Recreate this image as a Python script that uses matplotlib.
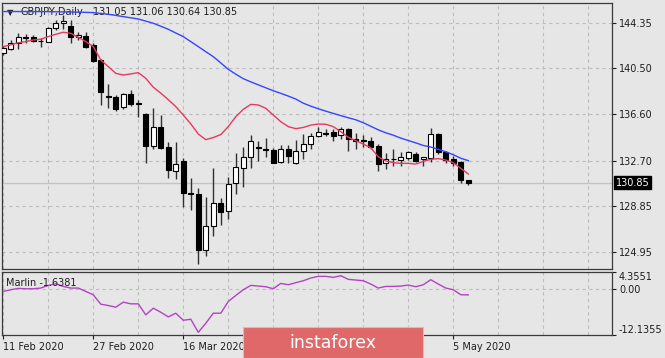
import matplotlib
matplotlib.use("Agg")
import matplotlib.pyplot as plt
import numpy as np
from matplotlib.patches import Rectangle
from matplotlib.transforms import blended_transform_factory

# GBPJPY daily candles, 11 Feb 2020 .. 7 May 2020
opens = [141.76, 142.10, 142.61, 143.11, 143.17, 142.83, 142.75, 143.88, 144.35, 144.07,
         143.11, 143.23, 142.47, 141.20, 138.18, 138.10, 137.20, 138.30, 137.54, 136.61,
         133.96, 135.57, 133.88, 131.85, 132.67, 129.94, 129.88, 125.15, 127.18, 129.15,
         128.45, 130.78, 132.11, 133.04, 133.82, 133.65, 133.60, 132.56, 133.65, 132.47,
         133.48, 134.08, 134.78, 135.03, 135.09, 134.84, 135.34, 134.53, 134.41, 134.39,
         133.94, 132.47, 132.87, 132.75, 132.95, 133.23, 132.81, 132.95, 134.92, 133.46,
         132.84, 132.56, 131.05]
highs = [142.38, 142.89, 143.45, 143.37, 143.31, 143.03, 143.96, 144.58, 145.00, 144.58,
         143.59, 143.59, 142.61, 141.26, 139.14, 138.24, 138.44, 138.67, 137.82, 136.69,
         137.15, 136.55, 134.30, 134.30, 132.89, 131.21, 130.36, 129.60, 132.05, 129.52,
         131.35, 133.32, 133.82, 134.86, 134.36, 134.58, 133.74, 134.02, 134.02, 134.44,
         134.95, 135.00, 135.57, 135.34, 135.34, 135.51, 135.43, 135.00, 134.86, 134.67,
         134.10, 133.32, 133.65, 133.46, 133.54, 133.46, 133.03, 135.43, 135.00, 133.54,
         133.09, 132.67, 131.06]
lows = [141.62, 142.04, 142.10, 142.66, 142.75, 142.27, 142.69, 143.73, 143.79, 142.61,
        142.89, 142.18, 141.06, 137.40, 137.12, 136.89, 137.03, 137.32, 136.36, 132.53,
        133.70, 133.70, 131.26, 131.15, 128.81, 128.53, 123.97, 124.67, 126.36, 127.26,
        127.74, 129.85, 130.50, 132.11, 132.70, 132.98, 132.47, 132.47, 132.47, 132.42,
        132.87, 133.65, 134.67, 134.78, 134.39, 134.50, 133.54, 133.65, 133.88, 133.65,
        131.82, 131.96, 132.27, 132.27, 132.75, 132.61, 132.25, 132.61, 133.26, 132.47,
        132.27, 130.78, 130.64]
closes = [142.24, 142.66, 143.17, 143.08, 142.83, 142.80, 143.88, 144.35, 144.52, 143.11,
          143.31, 142.32, 141.14, 138.52, 138.10, 137.03, 138.33, 137.46, 137.46, 133.96,
          135.57, 133.74, 131.91, 132.39, 129.94, 129.85, 125.15, 127.18, 129.09, 128.33,
          130.73, 132.13, 133.04, 134.36, 133.74, 133.57, 132.53, 133.65, 133.09, 133.54,
          134.08, 134.78, 135.09, 134.98, 134.81, 135.34, 134.50, 134.39, 134.36, 133.88,
          132.41, 132.84, 132.81, 132.98, 133.40, 132.70, 132.98, 134.92, 133.46, 132.75,
          132.47, 131.06, 130.85]

ma_fast = [142.33, 142.47, 142.66, 142.75, 142.89, 142.95, 143.17, 143.37, 143.54, 143.45,
           143.11, 142.75, 142.33, 141.20, 140.64, 140.07, 139.93, 140.02, 140.13, 139.65,
           138.90, 138.40, 137.85, 137.26, 136.55, 135.80, 134.95, 134.47, 134.65, 134.90,
           135.57, 136.41, 137.03, 137.45, 137.40, 137.12, 136.55, 135.99, 135.57, 135.40,
           135.50, 135.70, 135.79, 135.77, 135.57, 135.15, 134.67, 134.39, 134.10, 133.79,
           133.03, 132.67, 132.53, 132.47, 132.47, 132.41, 132.64, 132.81, 132.87, 132.75,
           132.53, 132.05, 131.57]
ma_slow = [145.29, 145.29, 145.29, 145.29, 145.29, 145.28, 145.28, 145.27, 145.26, 145.25,
           145.24, 145.22, 145.20, 145.13, 145.06, 144.96, 144.86, 144.76, 144.66, 144.48,
           144.30, 144.05, 143.79, 143.48, 143.17, 142.75, 142.33, 141.90, 141.48, 140.95,
           140.41, 140.00, 139.62, 139.35, 139.10, 138.85, 138.60, 138.38, 138.15, 137.90,
           137.55, 137.30, 137.08, 136.88, 136.69, 136.50, 136.32, 136.15, 135.90, 135.60,
           135.30, 135.05, 134.85, 134.60, 134.40, 134.20, 133.98, 133.85, 133.65, 133.45,
           133.20, 132.90, 132.70]

marlin = [-0.73, -0.29, 0.06, -0.03, -0.03, 0.15, 0.85, 1.28, 0.58, 0.15,
          0.15, -0.73, -1.61, -4.07, -4.42, -4.86, -3.54, -3.98, -3.98, -6.87,
          -5.12, -6.17, -7.40, -6.43, -8.28, -8.01, -11.43, -9.07, -6.43, -6.43,
          -3.36, -1.79, -0.29, 0.85, 0.67, 0.50, -0.03, 1.37, 1.02, 1.55,
          2.07, 2.78, 3.21, 3.21, 2.95, 3.39, 2.43, 2.25, 2.07, 1.20,
          0.15, 0.58, 0.58, 0.67, 0.93, 0.50, 1.02, 2.34, 1.20, 0.15,
          -0.29, -1.60, -1.6381]

price_ticks = [144.35, 140.50, 136.60, 132.70, 128.85, 124.95]
marlin_ticks = [4.3551, 0.0, -12.1355]
date_pos = [0, 12, 24, 36, 48, 60]
date_labels = ["11 Feb 2020", "27 Feb 2020", "16 Mar 2020", "1 Apr 2020", "17 Apr 2020", "5 May 2020"]
last_price = 130.85

W, H = 665, 358
bg = "#e6e6e6"
grid_c = "#bdbdbd"
txt_c = "#1e1e1e"
plt.rcParams["font.family"] = "DejaVu Sans"
plt.rcParams["font.size"] = 7

fig = plt.figure(figsize=(W / 100, H / 100), dpi=100, facecolor=bg)
ax = fig.add_axes([2 / W, 1 - 269 / H, 610 / W, 266 / H], facecolor=bg)
ax2 = fig.add_axes([2 / W, 1 - 335 / H, 610 / W, 63 / H], facecolor=bg)

x = np.arange(len(opens))
xlim = (-0.17, 81.16)

# grid
for a in (ax, ax2):
    for gx in range(0, 82, 6):
        a.axvline(gx, color=grid_c, lw=0.8, ls=(0, (3, 3)), zorder=0)
for p in price_ticks:
    ax.axhline(p, color=grid_c, lw=0.8, ls=(0, (3, 3)), zorder=0)
ax2.axhline(0, color=grid_c, lw=0.8, ls=(0, (3, 3)), zorder=0)
ax.axhline(last_price, color="#c4c4c4", lw=1.0, zorder=0.5)

# candles
o = np.array(opens); c = np.array(closes)
ax.vlines(x, lows, highs, color="#303030", lw=1.0, zorder=2)
bottoms = np.minimum(o, c)
heights = np.maximum(np.abs(c - o), 0.04)
fills = ["white" if cc >= oo else "black" for oo, cc in zip(o, c)]
ax.bar(x, heights, bottom=bottoms, width=0.62, color=fills, edgecolor="black", lw=0.8, zorder=3)

ax.plot(x, ma_slow, color="#3346ff", lw=1.0, zorder=4)
ax.plot(x, ma_fast, color="#e6395f", lw=1.0, zorder=4)

ax.set_xlim(xlim)
ax.set_ylim(123.55, 146.01)
ax.set_xticks([])
ax.yaxis.tick_right()
ax.set_yticks(price_ticks)
ax.set_yticklabels([f"{p:.2f}" for p in price_ticks])
ax.tick_params(axis="y", length=3, width=0.8, pad=2, colors=txt_c, labelsize=7)

# current price tag
tr = blended_transform_factory(ax.transAxes, ax.transData)
ax.text(1.006, last_price, f"{last_price:.2f}", transform=tr, color="white", fontsize=7,
        va="center", ha="left", bbox=dict(boxstyle="square,pad=0.15", fc="black", ec="black"))

# title
ax.text(0.008, 0.966, "\u25bc", transform=ax.transAxes, fontsize=6, color=txt_c, va="center")
ax.text(0.030, 0.966, "GBPJPY,Daily", transform=ax.transAxes, fontsize=7, color=txt_c, va="center")
ax.text(0.149, 0.966, "131.05 131.06 130.64 130.85", transform=ax.transAxes, fontsize=7,
        color=txt_c, va="center")

# Marlin window
ax2.plot(x, marlin, color="#b045c0", lw=1.0, zorder=3)
ax2.set_xlim(xlim)
ax2.set_ylim(-12.1355, 4.3551)
ax2.yaxis.tick_right()
ax2.set_yticks(marlin_ticks)
ax2.set_yticklabels(["4.3551", "0.00", "-12.1355"])
ax2.tick_params(axis="y", length=3, width=0.8, pad=2, colors=txt_c, labelsize=7)
labs = ax2.get_yticklabels()
labs[0].set_va("top")
labs[2].set_va("bottom")
ax2.set_xticks(date_pos)
ax2.set_xticklabels(date_labels, ha="left")
ax2.tick_params(axis="x", length=3, width=0.8, pad=2, colors=txt_c, labelsize=7)
ax2.text(0.007, 0.83, "Marlin -1.6381", transform=ax2.transAxes, fontsize=7, color=txt_c, va="center")

for a in (ax, ax2):
    for s in a.spines.values():
        s.set_color("#3a3a3a")
        s.set_linewidth(0.9)

# watermark (covers the middle date labels, as in the source image)
fig.patches.append(Rectangle((243 / W, 0), 180 / W, 31 / H, transform=fig.transFigure,
                             fc="#e06868", ec="#f2b0b0", lw=0.8, zorder=10))
fig.text(333 / W, 1 - 343 / H, "instaforex", color="white", fontsize=12.5, ha="center",
         va="center", zorder=11)

fig.savefig("out.png", dpi=100, facecolor=bg)
